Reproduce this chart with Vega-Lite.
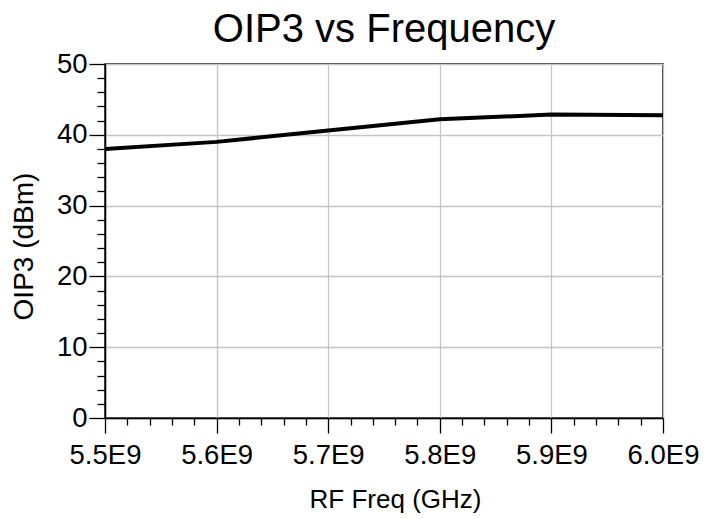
{
  "$schema": "https://vega.github.io/schema/vega-lite/v6.json",
  "width": 558,
  "height": 354,
  "autosize": {"type": "none"},
  "padding": {"left": 105, "top": 64, "right": 52, "bottom": 101},
  "background": "white",
  "title": {
    "text": "OIP3 vs Frequency",
    "font": "Liberation Sans",
    "fontSize": 40,
    "fontWeight": "normal",
    "color": "black",
    "anchor": "middle",
    "offset": 0
  },
  "data": {
    "values": [
      {"freq": 5500000000, "oip3": 38.0},
      {"freq": 5600000000, "oip3": 39.0},
      {"freq": 5700000000, "oip3": 40.6},
      {"freq": 5800000000, "oip3": 42.2},
      {"freq": 5900000000, "oip3": 42.85},
      {"freq": 6000000000, "oip3": 42.75}
    ]
  },
  "mark": {"type": "line", "color": "black", "strokeWidth": 4, "clip": true},
  "encoding": {
    "x": {
      "field": "freq",
      "type": "quantitative",
      "scale": {"domain": [5500000000, 6000000000], "nice": false, "zero": false},
      "axis": {
        "title": "RF Freq (GHz)",
        "values": [5500000000, 5520000000, 5540000000, 5560000000, 5580000000, 5600000000, 5620000000, 5640000000, 5660000000, 5680000000, 5700000000, 5720000000, 5740000000, 5760000000, 5780000000, 5800000000, 5820000000, 5840000000, 5860000000, 5880000000, 5900000000, 5920000000, 5940000000, 5960000000, 5980000000, 6000000000],
        "labelExpr": "datum.value % 100000000 === 0 ? format(datum.value / 1e9, '.1f') + 'E9' : ''",
        "tickSize": {"expr": "datum.value % 100000000 === 0 ? 15 : 7"},
        "gridOpacity": {"expr": "datum.value % 100000000 === 0 ? 1 : 0"},
        "labelFlush": false,
        "labelOverlap": false,
        "labelBound": false,
        "labelPadding": 8,
        "titleFontSize": 26,
        "titleX": 290,
        "titleY": 89,
        "titleBaseline": "alphabetic"
      }
    },
    "y": {
      "field": "oip3",
      "type": "quantitative",
      "scale": {"domain": [0, 50], "nice": false},
      "axis": {
        "title": "OIP3 (dBm)",
        "values": [0, 2, 4, 6, 8, 10, 12, 14, 16, 18, 20, 22, 24, 26, 28, 30, 32, 34, 36, 38, 40, 42, 44, 46, 48, 50],
        "labelExpr": "datum.value % 10 === 0 ? datum.label : ''",
        "tickSize": {"expr": "datum.value % 10 === 0 ? 16 : 8"},
        "gridOpacity": {"expr": "datum.value % 10 === 0 ? 1 : 0"},
        "labelFlush": false,
        "labelOverlap": false,
        "labelBound": false,
        "labelPadding": 2,
        "titleFontSize": 28,
        "titleAngle": -90,
        "titleX": -73,
        "titleY": 182,
        "titleBaseline": "alphabetic",
        "titleAlign": "center"
      }
    }
  },
  "config": {
    "view": {"stroke": "black", "strokeWidth": 1.5},
    "axis": {
      "domainColor": "black",
      "domainWidth": 1.5,
      "tickColor": "black",
      "tickWidth": 1.3,
      "gridColor": "#c4c4c4",
      "gridWidth": 1.3,
      "labelFont": "Liberation Sans",
      "labelFontSize": 27.5,
      "labelColor": "black",
      "titleFont": "Liberation Sans",
      "titleFontWeight": "normal",
      "titleColor": "black"
    }
  }
}
